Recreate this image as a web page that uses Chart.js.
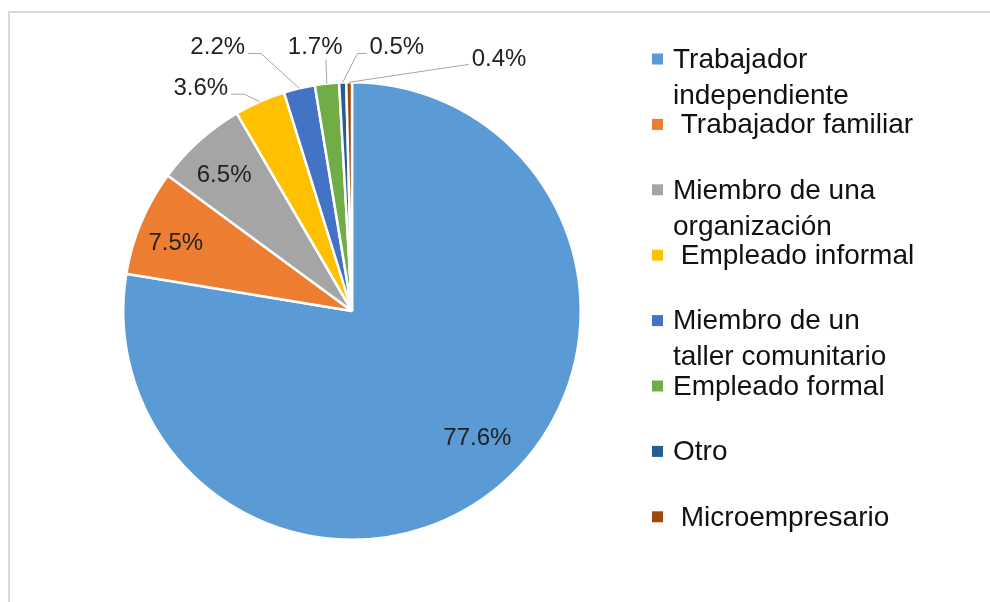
<!DOCTYPE html>
<html>
<head>
<meta charset="utf-8">
<script src="https://cdn.jsdelivr.net/npm/chart.js@4/dist/chart.umd.min.js"></script>
<style>
html, body { margin: 0; padding: 0; background: #fff; }
#wrap { width: 990px; height: 602px; }
</style>
</head>
<body>
<div id="wrap"><canvas id="pie" width="990" height="602"></canvas></div>
<script>
// categories (legend text, one entry per line)
const categories = [
    ['Trabajador', 'independiente'],
    [' Trabajador familiar'],
    ['Miembro de una', 'organización'],
    [' Empleado informal'],
    ['Miembro de un', 'taller comunitario'],
    ['Empleado formal'],
    ['Otro'],
    [' Microempresario']
];
const shares = [77.6, 7.5, 6.5, 3.6, 2.2, 1.7, 0.5, 0.4];

const sliceColors = ['#5B9BD5', '#ED7D31', '#A5A5A5', '#FFC000', '#4472C4', '#70AD47', '#255E91', '#9E480E'];
// label centre relative to pie centre, in radii
const labelSpots = [[0.548, 0.557], [-0.770, -0.296], [-0.559, -0.591], [-0.661, -0.974],
                    [-0.587, -1.152], [-0.161, -1.152], [0.196, -1.152], [0.643, -1.100]];
const labelOutside = [false, false, false, true, true, true, true, true];

const frame = {
    id: 'frame',
    beforeDraw(chart) {
        const ctx = chart.ctx;
        ctx.save();
        ctx.strokeStyle = '#d9d9d9';
        ctx.lineWidth = 2;
        ctx.beginPath();
        ctx.moveTo(9, chart.height);
        ctx.lineTo(9, 12);
        ctx.lineTo(chart.width, 12);
        ctx.stroke();
        ctx.restore();
    }
};

const sliceLabels = {
    id: 'sliceLabels',
    afterDatasetsDraw(chart) {
        const ctx = chart.ctx;
        const arcs = chart.getDatasetMeta(0).data;
        ctx.save();
        ctx.font = '24px "Liberation Sans"';
        ctx.textAlign = 'center';
        ctx.textBaseline = 'middle';
        arcs.forEach((arc, i) => {
            const p = arc.getProps(['x', 'y', 'outerRadius', 'startAngle', 'endAngle'], true);
            const R = p.outerRadius;
            const lx = p.x + labelSpots[i][0] * R;
            const ly = p.y + labelSpots[i][1] * R;
            const txt = shares[i].toFixed(1) + '%';
            if (labelOutside[i]) {
                const mid = (p.startAngle + p.endAngle) / 2;
                const ex = p.x + Math.cos(mid) * R;
                const ey = p.y + Math.sin(mid) * R;
                const w = ctx.measureText(txt).width;
                ctx.strokeStyle = '#a6a6a6';
                ctx.lineWidth = 1;
                ctx.beginPath();
                if (Math.abs(ex - lx) < w / 2) {
                    ctx.moveTo(ex - 1, ly + 12);
                } else if (ex > lx) {
                    ctx.moveTo(lx + w / 2 + 3, ly + 6);
                    ctx.lineTo(lx + w / 2 + 16, ly + 6);
                } else if (lx - ex > 100) {
                    ctx.moveTo(lx - w / 2 - 3, ly + 5);
                } else {
                    ctx.moveTo(lx - w / 2 - 3, ly + 6);
                    ctx.lineTo(lx - w / 2 - 12, ly + 6);
                }
                ctx.lineTo(ex, ey);
                ctx.stroke();
            }
            ctx.fillStyle = '#222222';
            ctx.fillText(txt, lx, ly);
        });
        ctx.restore();
    }
};

const sideLegend = {
    id: 'sideLegend',
    afterDraw(chart) {
        const ctx = chart.ctx;
        ctx.save();
        ctx.font = '28px "Liberation Sans"';
        ctx.textAlign = 'left';
        ctx.textBaseline = 'middle';
        chart.data.labels.forEach((lines, i) => {
            const y = 59 + i * 65.4;
            ctx.fillStyle = sliceColors[i];
            ctx.fillRect(652, y - 5.5, 11, 11);
            ctx.fillStyle = '#111111';
            lines.forEach((line, k) => ctx.fillText(line, 673, y + 1 + k * 36));
        });
        ctx.restore();
    }
};

new Chart(document.getElementById('pie'), {
    type: 'pie',
    data: {
        labels: categories,
        datasets: [{
            data: shares,
            backgroundColor: sliceColors,
            borderColor: '#ffffff',
            borderWidth: 2.5
        }]
    },
    options: {
        responsive: false,
        animation: false,
        layout: { padding: { left: 122, top: 81, right: 408, bottom: 61 } },
        plugins: {
            legend: { display: false },
            tooltip: { enabled: false }
        }
    },
    plugins: [frame, sliceLabels, sideLegend]
});
</script>
</body>
</html>
